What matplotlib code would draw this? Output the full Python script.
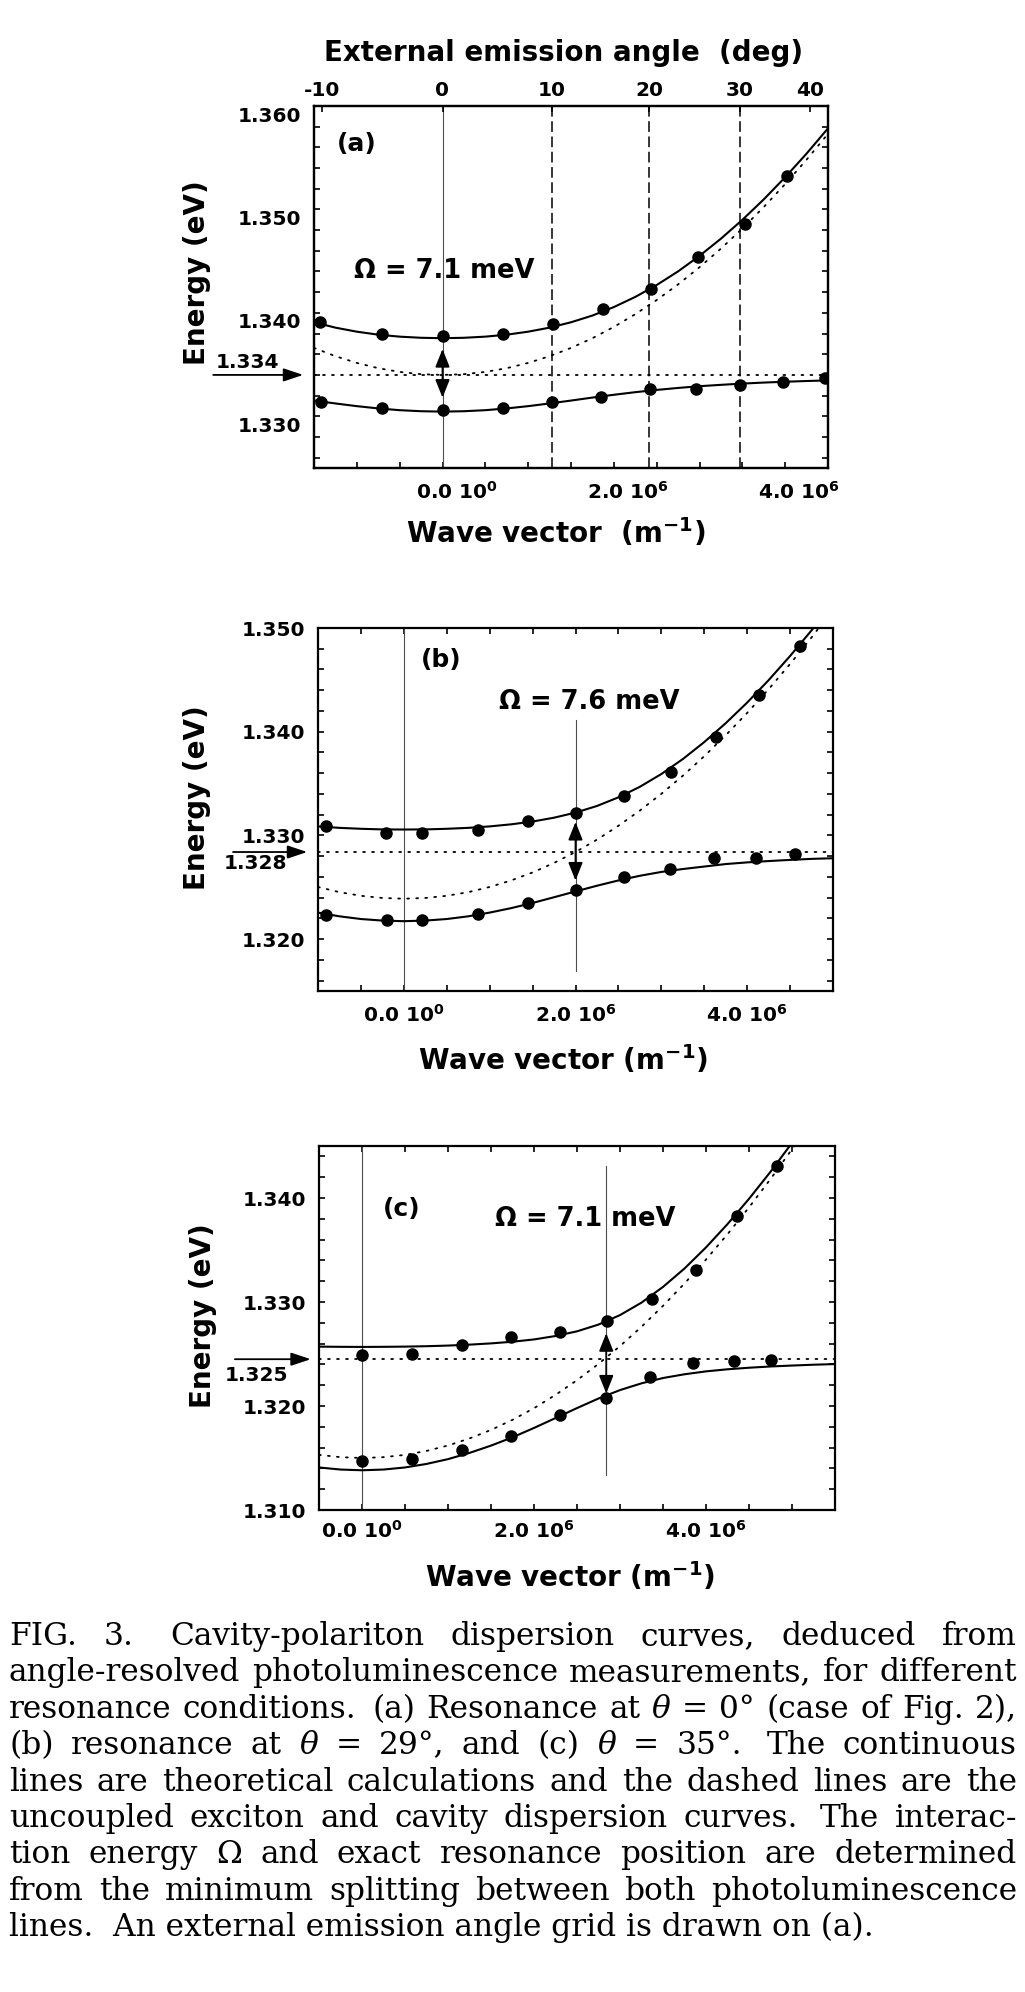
import re

import matplotlib

matplotlib.use("Agg")
import matplotlib.pyplot as plt  # noqa: E402
import matplotlib.transforms as mtransforms  # noqa: E402
from matplotlib.ticker import FormatStrFormatter, MultipleLocator  # noqa: E402

W, H, DPI = 1025, 1992, 100

# wave vector in units of 1e6 m^-1, energies in eV
# ---- panel (a): resonance at 0 deg
A_K_UP = [-1.43, -0.71, 0.0, 0.71, 1.29, 1.87, 2.43, 2.98, 3.53, 4.02]
A_E_UP = [1.3391, 1.3380, 1.3378, 1.3380, 1.3389, 1.3404, 1.3423, 1.3454, 1.3486, 1.3532]
A_K_LO = [-1.42, -0.71, 0.0, 0.71, 1.28, 1.85, 2.42, 2.96, 3.47, 3.98, 4.46]
A_E_LO = [1.3314, 1.3308, 1.3306, 1.3308, 1.3314, 1.3319, 1.3326, 1.3326, 1.3330, 1.3333, 1.3337]
A_K_FIT = [-1.5, -1.25, -1.0, -0.75, -0.5, -0.25, 0.0, 0.25, 0.5, 0.75, 1.0, 1.25, 1.5,
           1.75, 2.0, 2.25, 2.5, 2.75, 3.0, 3.25, 3.5, 3.75, 4.0, 4.25, 4.5]
A_FIT_UP = [1.33909, 1.33857, 1.33818, 1.33789, 1.33770, 1.33759, 1.33755, 1.33759, 1.33770,
            1.33789, 1.33818, 1.33857, 1.33909, 1.33974, 1.34056, 1.34154, 1.34269, 1.34401,
            1.34551, 1.34717, 1.34899, 1.35097, 1.35311, 1.35540, 1.35784]
A_FIT_LO = [1.33152, 1.33124, 1.33098, 1.33076, 1.33059, 1.33049, 1.33045, 1.33049, 1.33059,
            1.33076, 1.33098, 1.33124, 1.33152, 1.33181, 1.33208, 1.33233, 1.33255, 1.33274,
            1.33291, 1.33304, 1.33316, 1.33326, 1.33334, 1.33341, 1.33347]
A_CAVITY = [1.33661, 1.33581, 1.33516, 1.33465, 1.33429, 1.33407, 1.33400, 1.33407, 1.33429,
            1.33465, 1.33516, 1.33581, 1.33661, 1.33755, 1.33864, 1.33987, 1.34124, 1.34275,
            1.34441, 1.34621, 1.34815, 1.35023, 1.35245, 1.35481, 1.35731]
A_EXCITON = 1.334
A_RES_K = 0.0
A_ARROW = (1.3318, 1.3365)
ANGLE_DEG = [-10, 0, 10, 20, 30, 40]
ANGLE_K = [-1.41, 0.0, 1.28, 2.41, 3.47, 4.29]
ANGLE_GRID = [10, 20, 30]  # dashed grid lines drawn at these angles

# ---- panel (b): resonance at 29 deg
B_K_UP = [-0.91, -0.21, 0.21, 0.86, 1.45, 2.01, 2.57, 3.11, 3.64, 4.14, 4.62]
B_E_UP = [1.3309, 1.3302, 1.3302, 1.3305, 1.3314, 1.3322, 1.3338, 1.3361, 1.3395, 1.3435, 1.3483]
B_K_LO = [-0.91, -0.20, 0.21, 0.86, 1.45, 2.01, 2.56, 3.10, 3.61, 4.10, 4.56]
B_E_LO = [1.3223, 1.3218, 1.3218, 1.3224, 1.3235, 1.3247, 1.3260, 1.3268, 1.3278, 1.3278, 1.3282]
B_K_FIT = [-1.0, -0.75, -0.5, -0.25, 0.0, 0.25, 0.5, 0.75, 1.0, 1.25, 1.5, 1.75, 2.0,
           2.25, 2.5, 2.75, 3.0, 3.25, 3.5, 3.75, 4.0, 4.25, 4.5, 4.75, 5.0]
B_FIT_UP = [1.33087, 1.33073, 1.33064, 1.33058, 1.33057, 1.33058, 1.33064, 1.33073, 1.33087,
            1.33107, 1.33134, 1.33171, 1.33220, 1.33284, 1.33367, 1.33469, 1.33592, 1.33736,
            1.33900, 1.34082, 1.34281, 1.34497, 1.34730, 1.34977, 1.35239]
B_FIT_LO = [1.32256, 1.32220, 1.32194, 1.32179, 1.32173, 1.32179, 1.32194, 1.32220, 1.32256,
            1.32299, 1.32349, 1.32404, 1.32460, 1.32515, 1.32566, 1.32611, 1.32648, 1.32676,
            1.32700, 1.32724, 1.32740, 1.32753, 1.32764, 1.32774, 1.32780]
B_CAVITY = [1.32503, 1.32453, 1.32418, 1.32397, 1.32390, 1.32397, 1.32418, 1.32453, 1.32503,
            1.32566, 1.32643, 1.32735, 1.32840, 1.32959, 1.33093, 1.33240, 1.33401, 1.33575,
            1.33764, 1.33966, 1.34181, 1.34410, 1.34653, 1.34909, 1.35179]
B_EXCITON = 1.3284
B_RES_K = 2.0
B_RES_LINE = (1.3169, 1.3411)
B_ARROW = (1.32565, 1.3313)

# ---- panel (c): resonance at 35 deg
C_K_UP = [0.0, 0.58, 1.16, 1.73, 2.30, 2.85, 3.37, 3.88, 4.36, 4.83]
C_E_UP = [1.3249, 1.3250, 1.3259, 1.3266, 1.3271, 1.3282, 1.3303, 1.3331, 1.3383, 1.3431]
C_K_LO = [0.0, 0.58, 1.16, 1.73, 2.30, 2.84, 3.35, 3.85, 4.33, 4.76]
C_E_LO = [1.3147, 1.3149, 1.3158, 1.3171, 1.3191, 1.3208, 1.3228, 1.3241, 1.3243, 1.3244]
C_K_FIT = [-0.5, -0.25, 0.0, 0.25, 0.5, 0.75, 1.0, 1.25, 1.5, 1.75, 2.0, 2.25, 2.5,
           2.75, 3.0, 3.25, 3.5, 3.75, 4.0, 4.25, 4.5, 4.75, 5.0, 5.25, 5.5]
C_FIT_UP = [1.32571, 1.32569, 1.32568, 1.32569, 1.32571, 1.32575, 1.32581, 1.32590, 1.32602,
            1.32618, 1.32640, 1.32673, 1.32718, 1.32783, 1.32874, 1.32994, 1.33145, 1.33322,
            1.33525, 1.33749, 1.33992, 1.34252, 1.34530, 1.34823, 1.35131]
C_FIT_LO = [1.31409, 1.31389, 1.31382, 1.31389, 1.31409, 1.31443, 1.31489, 1.31549, 1.31619,
            1.31699, 1.31789, 1.31884, 1.31980, 1.32072, 1.32153, 1.32218, 1.32269, 1.32305,
            1.32333, 1.32353, 1.32368, 1.32380, 1.32389, 1.32397, 1.32403]
C_CAVITY = [1.31530, 1.31508, 1.31500, 1.31508, 1.31530, 1.31568, 1.31620, 1.31688, 1.31770,
            1.31867, 1.31979, 1.32107, 1.32248, 1.32405, 1.32576, 1.32762, 1.32963, 1.33178,
            1.33408, 1.33652, 1.33910, 1.34182, 1.34469, 1.34770, 1.35084]
C_EXCITON = 1.3245
C_RES_K = 2.84
C_RES_LINE = (1.3134, 1.3431)
C_ARROW = (1.3212, 1.3270)

K_TICKS = [0.0, 2.0, 4.0]
K_TICK_LABELS = ["0.0 10$^0$", "2.0 10$^6$", "4.0 10$^6$"]

CAPTION = [
    "FIG. 3.  Cavity-polariton dispersion curves, deduced from",
    "angle-resolved photoluminescence measurements, for different",
    "resonance conditions.  (a) Resonance at θ = 0° (case of Fig. 2),",
    "(b) resonance at θ = 29°, and (c) θ = 35°.  The continuous",
    "lines are theoretical calculations and the dashed lines are the",
    "uncoupled exciton and cavity dispersion curves.  The interac-",
    "tion energy Ω and exact resonance position are determined",
    "from the minimum splitting between both photoluminescence",
    "lines.  An external emission angle grid is drawn on (a).",
]

plt.rcParams.update({
    "font.family": ["DejaVu Sans"],
    "font.weight": "bold",
    "mathtext.fontset": "dejavusans",
    "mathtext.default": "bf",
    "axes.linewidth": 1.6,
})

DOTTED = dict(color="k", lw=1.3, ls=(0, (1, 4)), dash_capstyle="round")
SOLID = dict(color="k", lw=1.5)
THIN = dict(color="0.3", lw=0.8)
DOT = dict(ls="none", marker="o", ms=8, color="k", zorder=5)
SERIF = "DejaVu Serif"


def _axes(fig, box):
    l, t, r, b = box
    return fig.add_axes([l / W, 1 - b / H, (r - l) / W, (b - t) / H])


def _offset_labels(fig, labels, dx_px, dy_px):
    off = mtransforms.ScaledTranslation(dx_px / DPI, dy_px / DPI, fig.dpi_scale_trans)
    for lab in labels:
        lab.set_transform(lab.get_transform() + off)


def _frame(ax, xlim, ylim, xpad, top_ticks=True):
    ax.set_xlim(*xlim)
    ax.set_ylim(*ylim)
    ax.set_xticks(K_TICKS, labels=K_TICK_LABELS)
    ax.xaxis.set_minor_locator(MultipleLocator(0.5))
    ax.yaxis.set_major_locator(MultipleLocator(0.01))
    ax.yaxis.set_minor_locator(MultipleLocator(0.002))
    ax.yaxis.set_major_formatter(FormatStrFormatter("%.3f"))
    ax.tick_params(which="both", direction="in", length=4.5, width=1.2,
                   top=top_ticks, right=True, labelsize=14.5)
    ax.tick_params(axis="y", pad=9.4)
    ax.tick_params(axis="x", pad=xpad)


def _curves(ax, k_fit, up, lo, cav, exc, k_up, e_up, k_lo, e_lo):
    ax.axhline(exc, **DOTTED)
    ax.plot(k_fit, cav, **DOTTED)
    ax.plot(k_fit, up, **SOLID)
    ax.plot(k_fit, lo, **SOLID)
    ax.plot(k_up, e_up, **DOT)
    ax.plot(k_lo, e_lo, **DOT)


def _split_arrow(ax, k, span):
    ax.annotate("", xy=(k, span[1]), xytext=(k, span[0]),
                arrowprops=dict(arrowstyle="<|-|>,head_length=0.55,head_width=0.22",
                                mutation_scale=20, lw=1.3, color="k", shrinkA=0, shrinkB=0))


def _exciton_marker(ax, exc, text, tail, tip, lx, dy_pt):
    trans = mtransforms.blended_transform_factory(ax.transAxes, ax.transData)
    ax.annotate("", xy=(tip, exc), xycoords=trans, xytext=(tail, exc), textcoords=trans,
                arrowprops=dict(arrowstyle="-|>,head_length=0.6,head_width=0.2",
                                mutation_scale=20, lw=1.3, color="k", shrinkA=0, shrinkB=0),
                annotation_clip=False)
    ax.annotate(text, xy=(lx, exc), xycoords=trans, xytext=(0, dy_pt),
                textcoords="offset points", ha="center", va="center",
                fontsize=14.5, weight="bold", annotation_clip=False)


def _labels(ax, xlabel, xl_pos, yl_pos, letter, letter_pos, omega, omega_pos):
    ax.set_xlabel(xlabel, fontsize=20, weight="bold", va="center")
    ax.xaxis.set_label_coords(*xl_pos)
    ax.set_ylabel("Energy (eV)", fontsize=20, weight="bold", va="center")
    ax.yaxis.set_label_coords(*yl_pos)
    ax.text(*letter_pos, letter, transform=ax.transAxes, ha="center", va="center",
            fontsize=18, weight="bold")
    ax.text(*omega_pos, omega, transform=ax.transAxes, ha="center", va="center",
            fontsize=18.5, weight="bold")


def _caption(fig, x0, x1, base0, step, size):
    """Justified caption: every line but the last is stretched to the column width."""
    renderer = fig.canvas.get_renderer()
    avail = x1 - x0

    def width(t):
        return t.get_window_extent(renderer).width

    probe = fig.text(0, 0, "a a", family=SERIF, weight="normal", fontsize=size)
    probe2 = fig.text(0, 0, "aa", family=SERIF, weight="normal", fontsize=size)
    space = width(probe) - width(probe2)
    probe.remove()
    probe2.remove()

    rows = []
    for i, line in enumerate(CAPTION[:-1]):
        parts = re.split(r"( +)", line)
        words = parts[0::2]
        gaps = [1.0 + 0.4 * (len(g) - 1) for g in parts[1::2]]
        y = 1 - (base0 + i * step) / H
        texts = [fig.text(0, y, w, family=SERIF, weight="normal", fontsize=size,
                          fontstyle="italic" if w == "θ" else "normal",
                          va="baseline", ha="left") for w in words]
        rows.append((texts, gaps))

    # grow / shrink the type so the tightest line sets at its natural spacing
    need = max((sum(width(t) for t in texts) + space * sum(gaps)) / avail
               for texts, gaps in rows)
    size = size / need * 0.995
    for texts, _ in rows:
        for t in texts:
            t.set_fontsize(size)

    for texts, gaps in rows:
        widths = [width(t) for t in texts]
        unit = (avail - sum(widths)) / sum(gaps)
        x = x0
        for j, (t, w) in enumerate(zip(texts, widths)):
            t.set_x(x / W)
            x += w + (gaps[j] * unit if j < len(gaps) else 0)

    fig.text(x0 / W, 1 - (base0 + (len(CAPTION) - 1) * step) / H, CAPTION[-1],
             family=SERIF, weight="normal", fontsize=size, va="baseline", ha="left")


fig = plt.figure(figsize=(W / DPI, H / DPI), dpi=DPI)

# ---------------- (a)
ax = _axes(fig, (314, 106, 828, 468))
_frame(ax, (-1.5, 4.5), (1.325, 1.360), xpad=9.5, top_ticks=False)
ax.axvline(A_RES_K, **THIN)
for deg, k in zip(ANGLE_DEG, ANGLE_K):
    if deg in ANGLE_GRID:
        ax.axvline(k, color="k", lw=1.1, ls=(0, (7, 3)))
_curves(ax, A_K_FIT, A_FIT_UP, A_FIT_LO, A_CAVITY, A_EXCITON, A_K_UP, A_E_UP, A_K_LO, A_E_LO)
_split_arrow(ax, A_RES_K, A_ARROW)
_exciton_marker(ax, A_EXCITON, "1.334", -0.196, -0.021, -0.130, 8.6)
_labels(ax, "Wave vector  (m$^{-1}$)", (0.471, -0.177), (-0.228, 0.541),
        "(a)", (0.083, 0.896), "Ω = 7.1 meV", (0.253, 0.545))
top = ax.twiny()
top.set_xlim(ax.get_xlim())
top.set_xticks(ANGLE_K, labels=[str(d) for d in ANGLE_DEG])
top.tick_params(direction="in", length=4.5, width=1.2, labelsize=14.5, pad=4)
top.set_xlabel("External emission angle  (deg)", fontsize=20, weight="bold", va="center")
top.xaxis.set_label_coords(0.486, 1 + 53 / 362)
_offset_labels(fig, ax.get_xticklabels(), 14, 0)
_offset_labels(fig, ax.get_yticklabels(), 0, -8)

# ---------------- (b)
ax = _axes(fig, (318, 628, 833, 991))
_frame(ax, (-1.0, 5.0), (1.315, 1.350), xpad=9.5)
ax.axvline(0.0, **THIN)
ax.plot([B_RES_K, B_RES_K], B_RES_LINE, **THIN)
_curves(ax, B_K_FIT, B_FIT_UP, B_FIT_LO, B_CAVITY, B_EXCITON, B_K_UP, B_E_UP, B_K_LO, B_E_LO)
_split_arrow(ax, B_RES_K, B_ARROW)
_exciton_marker(ax, B_EXCITON, "1.328", -0.165, -0.021, -0.122, -8.6)
_labels(ax, "Wave vector (m$^{-1}$)", (0.476, -0.190), (-0.235, 0.532),
        "(b)", (0.240, 0.912), "Ω = 7.6 meV", (0.527, 0.797))

# ---------------- (c)
ax = _axes(fig, (319, 1146, 835, 1510))
_frame(ax, (-0.5, 5.5), (1.310, 1.345), xpad=7)
ax.axvline(0.0, **THIN)
ax.plot([C_RES_K, C_RES_K], C_RES_LINE, **THIN)
_curves(ax, C_K_FIT, C_FIT_UP, C_FIT_LO, C_CAVITY, C_EXCITON, C_K_UP, C_E_UP, C_K_LO, C_E_LO)
_split_arrow(ax, C_RES_K, C_ARROW)
_exciton_marker(ax, C_EXCITON, "1.325", -0.163, -0.016, -0.122, -11.5)
_labels(ax, "Wave vector (m$^{-1}$)", (0.486, -0.184), (-0.225, 0.533),
        "(c)", (0.160, 0.826), "Ω = 7.1 meV", (0.515, 0.799))

_caption(fig, 9, 1017, 1645, 36.4, 22)

fig.savefig("out.png", dpi=DPI)
